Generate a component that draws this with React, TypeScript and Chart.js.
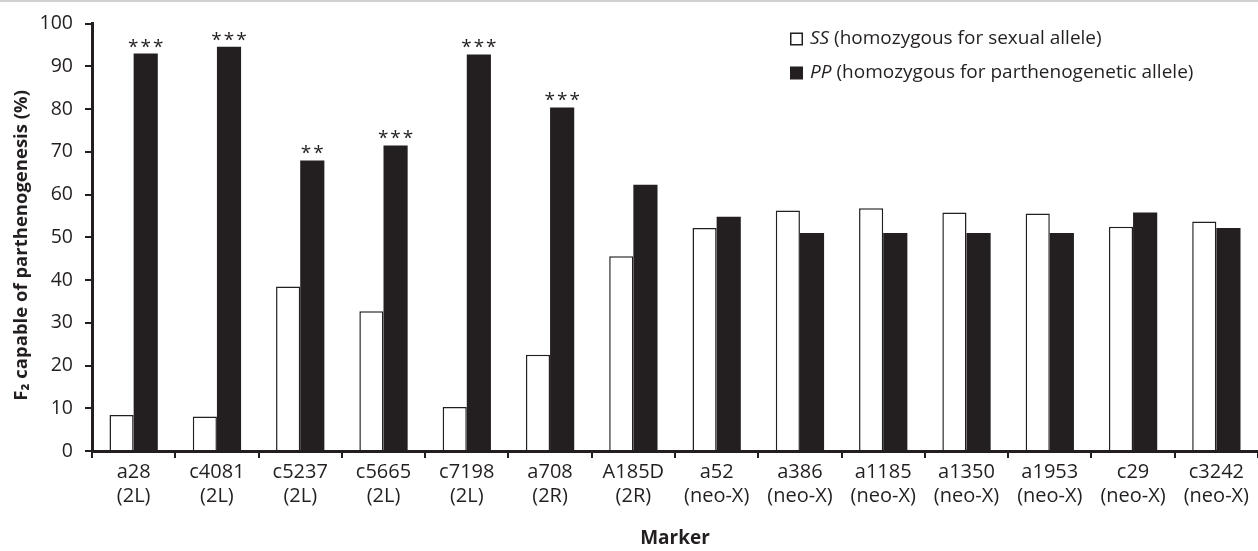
import React, { useEffect, useRef } from "react";
import { Chart, registerables } from "chart.js";

Chart.register(...registerables);

const categories: string[][] = [
  ["a28", "(2L)"],
  ["c4081", "(2L)"],
  ["c5237", "(2L)"],
  ["c5665", "(2L)"],
  ["c7198", "(2L)"],
  ["a708", "(2R)"],
  ["A185D", "(2R)"],
  ["a52", "(neo-X)"],
  ["a386", "(neo-X)"],
  ["a1185", "(neo-X)"],
  ["a1350", "(neo-X)"],
  ["a1953", "(neo-X)"],
  ["c29", "(neo-X)"],
  ["c3242", "(neo-X)"],
];

const ssValues = [8.4, 8.1, 38.5, 32.7, 10.3, 22.5, 45.6, 52.2, 56.3, 56.8, 55.8, 55.6, 52.5, 53.7];
const ppValues = [93.0, 94.6, 68.0, 71.5, 92.8, 80.4, 62.3, 54.8, 51.0, 51.0, 51.0, 51.0, 55.8, 52.2];
const significance = ["***", "***", "**", "***", "***", "***", "", "", "", "", "", "", "", ""];

const yTicks = [0, 10, 20, 30, 40, 50, 60, 70, 80, 90, 100];
const yTitle = "F₂ capable of parthenogenesis (%)";

const INK = "#231f20";
const FONT = "'Open Sans', 'DejaVu Sans', sans-serif";

export default function App() {
  const ref = useRef<HTMLCanvasElement | null>(null);

  useEffect(() => {
    document.body.style.margin = "0";
    const canvas = ref.current;
    if (!canvas) return;

    const overlay = {
      id: "overlay",
      beforeDraw(chart: any) {
        const ctx = chart.ctx;
        ctx.save();
        ctx.fillStyle = "#ffffff";
        ctx.fillRect(0, 0, chart.width, chart.height);
        ctx.strokeStyle = "#d0d0d0";
        ctx.lineWidth = 2;
        ctx.beginPath();
        ctx.moveTo(0, 1);
        ctx.lineTo(chart.width, 1);
        ctx.stroke();
        ctx.restore();
      },
      afterDraw(chart: any) {
        const ctx = chart.ctx;
        const meta = chart.getDatasetMeta(1);
        ctx.save();
        ctx.fillStyle = INK;
        ctx.font = `19px ${FONT}`;
        ctx.textAlign = "center";
        ctx.textBaseline = "alphabetic";
        try {
          (ctx as any).letterSpacing = "2px";
        } catch (e) {}
        significance.forEach((s, i) => {
          if (!s) return;
          const el = meta.data[i];
          ctx.fillText(s, el.x + 1, el.y - 1);
        });
        ctx.restore();

        // y-axis title
        ctx.save();
        ctx.translate(22, (chart.chartArea.top + chart.chartArea.bottom) / 2 + 8);
        ctx.rotate(-Math.PI / 2);
        ctx.fillStyle = INK;
        ctx.font = `bold 18.5px ${FONT}`;
        ctx.textAlign = "center";
        ctx.textBaseline = "middle";
        ctx.fillText(yTitle, 0, 0);
        ctx.restore();

        // legend
        ctx.save();
        const bx = 790;
        const rows = [
          { y: 39, filled: false, it: "SS", rest: " (homozygous for sexual allele)" },
          { y: 73, filled: true, it: "PP", rest: " (homozygous for parthenogenetic allele)" },
        ];
        rows.forEach((r) => {
          if (r.filled) {
            ctx.fillStyle = INK;
            ctx.fillRect(bx, r.y - 6.5, 13, 13);
          } else {
            ctx.strokeStyle = INK;
            ctx.lineWidth = 1.5;
            ctx.strokeRect(bx + 0.75, r.y - 5.75, 11.5, 11.5);
          }
          ctx.fillStyle = INK;
          ctx.textBaseline = "middle";
          ctx.textAlign = "left";
          ctx.font = `italic 19px ${FONT}`;
          const tx = bx + 20;
          ctx.fillText(r.it, tx, r.y);
          const w = ctx.measureText(r.it).width;
          ctx.font = `19px ${FONT}`;
          ctx.fillText(r.rest, tx + w, r.y);
        });
        ctx.restore();
      },
    };

    const chart = new Chart(canvas, {
      type: "bar",
      data: {
        labels: categories,
        datasets: [
          {
            label: "SS (homozygous for sexual allele)",
            data: ssValues,
            backgroundColor: "#ffffff",
            borderColor: INK,
            borderWidth: 1.5,
            categoryPercentage: 0.58,
            barPercentage: 1.0,
          },
          {
            label: "PP (homozygous for parthenogenetic allele)",
            data: ppValues,
            backgroundColor: INK,
            borderColor: INK,
            borderWidth: 0,
            categoryPercentage: 0.58,
            barPercentage: 1.0,
          },
        ],
      },
      options: {
        animation: false,
        responsive: false,
        maintainAspectRatio: false,
        layout: { padding: { top: 22, right: 0, left: 0, bottom: 0 } },
        plugins: {
          legend: { display: false },
          tooltip: { enabled: false },
        },
        scales: {
          x: {
            offset: true,
            grid: {
              offset: true,
              drawOnChartArea: false,
              drawTicks: true,
              tickLength: 7,
              color: INK,
              lineWidth: 2,
            },
            border: { display: true, color: INK, width: 3 },
            ticks: {
              color: INK,
              font: { family: FONT, size: 20, lineHeight: 1.2 },
              padding: 2,
              maxRotation: 0,
              autoSkip: false,
            },
            title: {
              display: true,
              text: "Marker",
              color: INK,
              font: { family: FONT, size: 19, weight: "bold" },
              padding: { top: 6, bottom: 1 },
            },
            afterFit(scale: any) {
              scale.height = 100;
            },
          },
          y: {
            min: 0,
            max: 100,
            afterBuildTicks(scale: any) {
              scale.ticks = yTicks.map((v) => ({ value: v }));
            },
            grid: {
              drawOnChartArea: false,
              drawTicks: true,
              tickLength: 7,
              color: INK,
              lineWidth: 2,
            },
            border: { display: true, color: INK, width: 3 },
            ticks: {
              color: INK,
              font: { family: FONT, size: 19.5 },
              padding: 12,
            },
            title: { display: false },
            afterFit(scale: any) {
              scale.width = 92;
            },
          },
        },
      },
      plugins: [overlay],
    } as any);

    return () => chart.destroy();
  }, []);

  return (
    <div style={{ width: 1258, height: 551, position: "relative" }}>
      <canvas ref={ref} width={1258} height={551} style={{ display: "block" }} />
    </div>
  );
}
